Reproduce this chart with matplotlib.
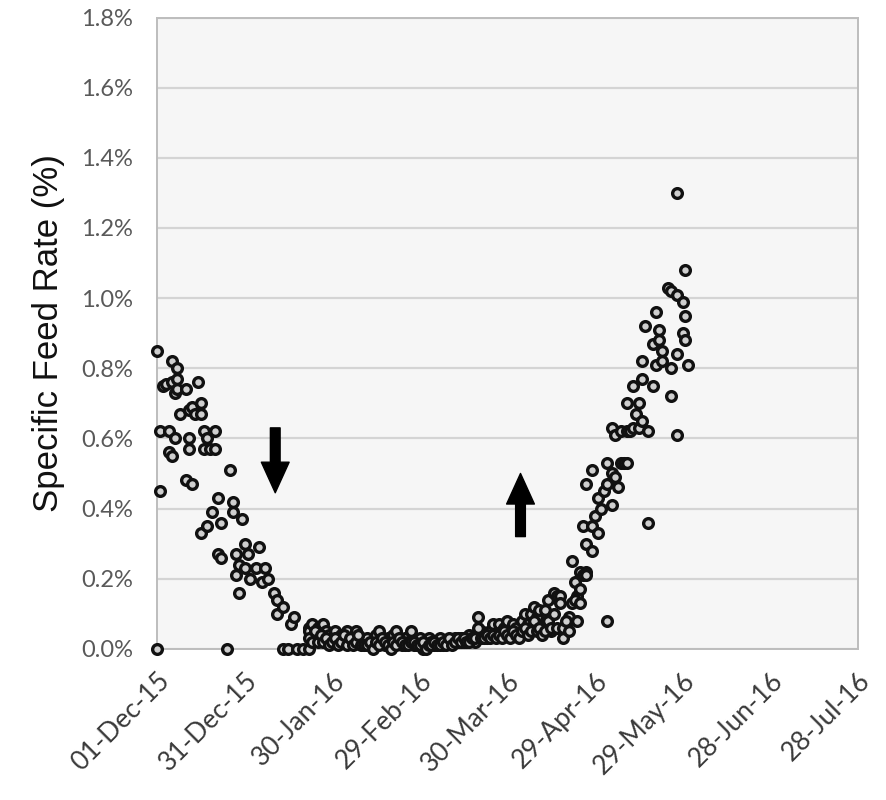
import matplotlib
matplotlib.use("Agg")
import matplotlib.pyplot as plt
import matplotlib.dates as mdates
from matplotlib.ticker import FuncFormatter, MultipleLocator
import numpy as np
import pandas as pd

START_DATE = "2015-12-01"

# ---- Data: (days since 01-Dec-15, specific feed rate in %) ----
# Winter decline (December - January)
decline_days = [0, 1, 0, 2, 1, 3, 4, 4, 5, 5, 5, 6, 6, 7, 7, 7, 8, 10, 10, 11, 11, 11,
                12, 12, 13, 14, 15, 15, 15, 16, 16, 17, 17, 18, 19, 20, 20, 21, 21, 22,
                22, 24, 25, 26, 26, 27, 27, 28, 28, 29, 30, 30, 31, 32, 34, 35, 36, 37,
                38, 40, 41, 41, 43, 43, 45, 46, 47, 48, 50, 52, 52, 53]
decline_rate = [0.85, 0.45, 0.00, 0.75, 0.62, 0.755, 0.62, 0.56, 0.76, 0.82, 0.55, 0.60,
                0.73, 0.80, 0.77, 0.74, 0.67, 0.48, 0.74, 0.68, 0.60, 0.57, 0.69, 0.47,
                0.67, 0.76, 0.70, 0.33, 0.67, 0.62, 0.57, 0.60, 0.35, 0.57, 0.39, 0.62,
                0.57, 0.43, 0.27, 0.26, 0.36, 0.00, 0.51, 0.42, 0.39, 0.27, 0.21, 0.16,
                0.24, 0.37, 0.30, 0.23, 0.27, 0.20, 0.23, 0.29, 0.19, 0.23, 0.20, 0.16,
                0.14, 0.10, 0.12, 0.00, 0.00, 0.07, 0.09, 0.00, 0.00, 0.00, 0.06, 0.03]

# Low-feeding period, two daily records (days 52 - 144)
low_first_day = 52
low_rate_a = [0.05, 0.07, 0.04, 0.06, 0.03, 0.07, 0.05, 0.04, 0.03, 0.05, 0.02, 0.04,
              0.03, 0.05, 0.02, 0.03, 0.05, 0.02, 0.03,
              0.02, 0.03, 0.01, 0.02, 0.04, 0.05, 0.02, 0.01, 0.03, 0.02, 0.04, 0.05,
              0.02, 0.01, 0.03, 0.02, 0.05, 0.01, 0.02, 0.03, 0.00, 0.01, 0.03, 0.02,
              0.01, 0.02, 0.03, 0.01, 0.02, 0.02,
              0.02, 0.03, 0.02, 0.03, 0.02, 0.03, 0.04, 0.03, 0.02, 0.09, 0.05, 0.04,
              0.03, 0.05, 0.07, 0.04, 0.07, 0.05, 0.06, 0.08, 0.05, 0.07, 0.06, 0.04,
              0.08,
              0.10, 0.07, 0.10, 0.12, 0.09, 0.11, 0.06, 0.11, 0.14, 0.05, 0.16, 0.15,
              0.15, 0.03, 0.07, 0.09, 0.25, 0.19, 0.15]
low_rate_b = [0.03, 0.02, 0.05, 0.02, 0.04, 0.02, 0.03, 0.01, 0.02, 0.03, 0.01, 0.02,
              0.04, 0.01, 0.03, 0.01, 0.02, 0.04, 0.01,
              0.01, 0.01, 0.02, 0.00, 0.02, 0.01, 0.03, 0.02, 0.01, 0.00, 0.02, 0.01,
              0.03, 0.02, 0.01, 0.01, 0.02, 0.02, 0.01, 0.01, 0.02, 0.00, 0.01, 0.01,
              0.02, 0.01, 0.01, 0.02, 0.01, 0.03,
              0.01, 0.02, 0.03, 0.02, 0.03, 0.02, 0.02, 0.03, 0.03, 0.06, 0.03, 0.03,
              0.04, 0.03, 0.04, 0.03, 0.04, 0.03, 0.05, 0.04, 0.03, 0.05, 0.04, 0.03,
              0.05,
              0.06, 0.04, 0.05, 0.08, 0.05, 0.06, 0.04, 0.05, 0.08, 0.06, 0.10, 0.06,
              0.13, 0.06, 0.08, 0.05, 0.13, 0.14, 0.08]

# Spring recovery (April - June)
rise_days = [145, 145, 145, 146, 146, 147, 147, 147, 147, 149, 149, 149, 150, 151, 151,
             152, 153, 154, 154, 154, 156, 156, 156, 157, 157, 158, 159, 160, 161, 159,
             161, 161, 162, 163, 165, 163, 164, 166, 165, 166, 166, 167, 168, 168, 170,
             170, 171, 171, 172, 172, 173, 173, 175, 176, 176, 176, 178, 178, 178, 178,
             180, 180, 181, 181, 181, 182]
rise_rate = [0.17, 0.13, 0.22, 0.35, 0.21, 0.30, 0.47, 0.22, 0.21, 0.28, 0.35, 0.51,
             0.38, 0.43, 0.33, 0.40, 0.45, 0.47, 0.53, 0.08, 0.50, 0.41, 0.63, 0.49,
             0.61, 0.46, 0.53, 0.53, 0.53, 0.62, 0.62, 0.70, 0.62, 0.75, 0.70, 0.63,
             0.67, 0.77, 0.63, 0.82, 0.65, 0.92, 0.36, 0.62, 0.87, 0.75, 0.96, 0.81,
             0.91, 0.88, 0.85, 0.82, 1.03, 0.72, 0.80, 1.02, 1.30, 1.01, 0.84, 0.61,
             0.99, 0.90, 1.08, 0.88, 0.95, 0.81]

tick_labels = ["01-Dec-15", "31-Dec-15", "30-Jan-16", "29-Feb-16", "30-Mar-16",
               "29-Apr-16", "29-May-16", "28-Jun-16", "28-Jul-16"]

# ---- Assemble ----
base = pd.Timestamp(START_DATE)
low_days = list(range(low_first_day, low_first_day + len(low_rate_a)))
all_days = np.array(decline_days + low_days + low_days + rise_days, dtype=float)
all_rate = np.array(decline_rate + low_rate_a + low_rate_b + rise_rate, dtype=float)
dates = base + pd.to_timedelta(all_days, unit="D")

tick_dates = pd.to_datetime(tick_labels, format="%d-%b-%y")

fig = plt.figure(figsize=(8.87, 8.0), dpi=100)
ax = fig.add_axes([0.177, 0.189, 0.790, 0.789])
ax.set_facecolor("#f6f6f6")

ax.scatter(mdates.date2num(dates), all_rate, s=7.0**2, facecolors="#cfcfcf",
           edgecolors="#111111", linewidths=2.4, zorder=3, clip_on=False)

ax.set_xlim(mdates.date2num(tick_dates[0]), mdates.date2num(tick_dates[-1]))
ax.set_ylim(0, 1.8)
ax.set_xticks(mdates.date2num(tick_dates))
ax.set_xticklabels(tick_labels, rotation=45, ha="right", va="top",
                   rotation_mode="anchor", fontsize=19, color="#3a3a3a",
                   family=["Lato", "DejaVu Sans"])
ax.yaxis.set_major_locator(MultipleLocator(0.2))
ax.yaxis.set_major_formatter(FuncFormatter(lambda v, p: f"{v:.1f}%"))
for lab in ax.get_yticklabels():
    lab.set_fontsize(17)
    lab.set_color("#595959")
    lab.set_family(["Lato", "DejaVu Sans"])
ax.tick_params(axis="y", length=0, pad=17)
ax.tick_params(axis="x", length=0, pad=14)

ax.grid(axis="y", color="#d4d4d4", linewidth=1.6, zorder=0)
ax.set_axisbelow(True)
for s in ax.spines.values():
    s.set_color("#bdbdbd")
    s.set_linewidth(1.4)

ax.set_ylabel("Specific Feed Rate (%)", fontsize=25, family=["Liberation Sans", "DejaVu Sans"],
              color="#111111", labelpad=12)

# Trend arrows
down_x = mdates.date2num(base + pd.Timedelta(days=40.5))
up_x = mdates.date2num(base + pd.Timedelta(days=124.5))
arrow_style = dict(arrowstyle="simple,head_length=1.1,head_width=1.0,tail_width=0.35",
                   color="black", mutation_scale=20, shrinkA=0, shrinkB=0)
ax.annotate("", xy=(down_x, 0.445), xytext=(down_x, 0.63), arrowprops=arrow_style)
ax.annotate("", xy=(up_x, 0.50), xytext=(up_x, 0.32), arrowprops=arrow_style)

fig.savefig("out.png", dpi=100)
